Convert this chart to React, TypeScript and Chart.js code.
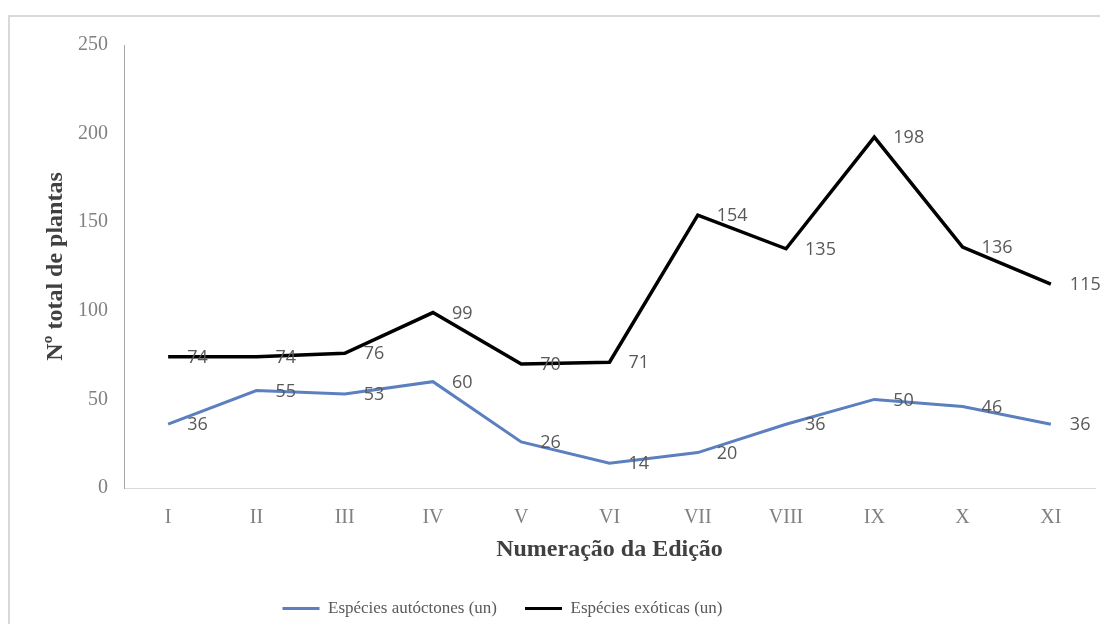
import React, { useEffect, useRef } from "react";
import { Chart, registerables } from "chart.js";

Chart.register(...registerables);

const categories = ["I", "II", "III", "IV", "V", "VI", "VII", "VIII", "IX", "X", "XI"];
const autoctones = [36, 55, 53, 60, 26, 14, 20, 36, 50, 46, 36];
const exoticas = [74, 74, 76, 99, 70, 71, 154, 135, 198, 136, 115];
const seriesNames = ["Espécies autóctones (un)", "Espécies exóticas (un)"];
const yTitle = "Nº total de plantas";
const xTitle = "Numeração da Edição";

const dataLabelPlugin = {
  id: "dataLabels",
  afterDatasetsDraw(chart: any) {
    const ctx = chart.ctx;
    ctx.save();
    ctx.font = '18px "Open Sans"';
    ctx.fillStyle = "#595959";
    ctx.textAlign = "left";
    ctx.textBaseline = "middle";
    chart.data.datasets.forEach((ds: any, i: number) => {
      const meta = chart.getDatasetMeta(i);
      meta.data.forEach((pt: any, j: number) => {
        ctx.fillText(String(ds.data[j]), pt.x + 19, pt.y + 1);
      });
    });
    ctx.restore();
  },
};

const legendShiftPlugin = {
  id: "legendShift",
  afterLayout(chart: any) {
    const l = chart.legend;
    if (l) {
      l.right -= 100;
      l.top += 3;
      l.bottom += 3;
    }
  },
};

export default function App() {
  const ref = useRef<HTMLCanvasElement | null>(null);

  useEffect(() => {
    if (!ref.current) return;
    const chart = new Chart(ref.current, {
      type: "line",
      data: {
        labels: categories,
        datasets: [
          {
            label: seriesNames[0],
            data: autoctones,
            borderColor: "#5b7fbf",
            backgroundColor: "#5b7fbf",
            borderWidth: 3,
            pointRadius: 0,
            tension: 0,
            fill: false,
          },
          {
            label: seriesNames[1],
            data: exoticas,
            borderColor: "#000000",
            backgroundColor: "#000000",
            borderWidth: 3.5,
            pointRadius: 0,
            tension: 0,
            fill: false,
          },
        ],
      },
      options: {
        responsive: false,
        animation: false,
        layout: { padding: { top: 26, left: 0, right: 5, bottom: 0 } },
        plugins: {
          tooltip: { enabled: false },
          legend: {
            position: "bottom",
            labels: {
              boxWidth: 37,
              boxHeight: 3,
              padding: 28,
              color: "#595959",
              font: { family: '"Liberation Serif", serif', size: 17 },
              generateLabels: (chart: any) =>
                Chart.defaults.plugins.legend.labels
                  .generateLabels(chart)
                  .map((l: any) => ({ ...l, lineWidth: 0 })),
            },
          },
        },
        scales: {
          x: {
            offset: true,
            grid: { display: false, drawTicks: false },
            border: { display: true, color: "#d9d9d9", width: 1 },
            ticks: {
              padding: 18,
              color: "#808080",
              font: { family: '"Liberation Serif", serif', size: 20 },
              maxRotation: 0,
            },
            title: {
              display: true,
              text: xTitle,
              color: "#404040",
              font: { family: '"Liberation Serif", serif', size: 24, weight: "bold" },
              padding: { top: 0, bottom: 5 },
            },
            afterFit: (s: any) => {
              s.height = 81;
            },
          },
          y: {
            min: 0,
            max: 250,
            grid: { display: false, drawTicks: false },
            border: { display: true, color: "#a6a6a6", width: 1 },
            ticks: {
              stepSize: 50,
              padding: 16,
              color: "#808080",
              font: { family: '"Liberation Serif", serif', size: 20 },
            },
            title: {
              display: true,
              text: yTitle,
              color: "#404040",
              font: { family: '"Liberation Serif", serif', size: 24, weight: "bold" },
              padding: { top: 31, bottom: 0 },
            },
            afterFit: (s: any) => {
              s.width = 114;
            },
          },
        },
      },
      plugins: [dataLabelPlugin, legendShiftPlugin],
    });
    return () => chart.destroy();
  }, []);

  return (
    <div style={{ paddingTop: 7 }}>
      <div
        style={{
          borderTop: "2px solid #d9d9d9",
          borderLeft: "2px solid #d9d9d9",
          width: 1100,
          height: 607,
          background: "#fff",
        }}
      >
        <canvas ref={ref} width={1090} height={607} style={{ display: "block" }} />
      </div>
    </div>
  );
}
